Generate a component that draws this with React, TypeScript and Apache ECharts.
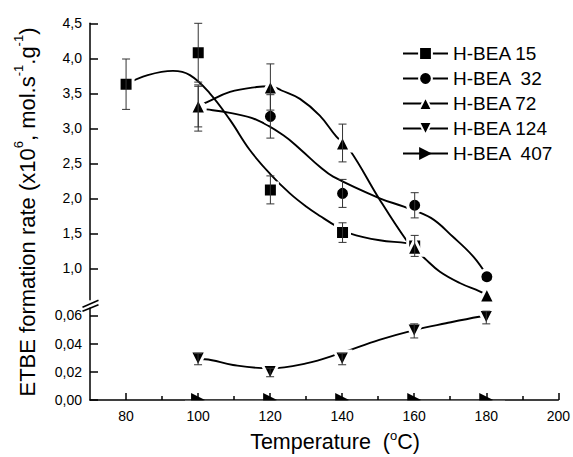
import React, { useEffect, useRef } from 'react';
import * as echarts from 'echarts';

// ---- ticks ----
const xTickValues = [80, 100, 120, 140, 160, 180, 200];
const xMinorValues = [90, 110, 130, 150, 170, 190];
const upperTicks = [1.0, 1.5, 2.0, 2.5, 3.0, 3.5, 4.0, 4.5];
const lowerTicks = [0, 0.02, 0.04, 0.06];

// ---- series names ----
const names = ['H-BEA 15', 'H-BEA  32', 'H-BEA 72', 'H-BEA 124', 'H-BEA  407'];

// ---- measured points ----
const s15T = [80, 100, 120, 140, 160];
const s15V = [3.63, 4.08, 2.12, 1.51, 1.32];
const s15E = [0.36, 0.42, 0.2, 0.14, 0.15];

const s32T = [100, 120, 140, 160, 180];
const s32V = [3.28, 3.17, 2.07, 1.9, 0.88];
const s32E = [0.32, 0.31, 0.2, 0.18, 0];

const s72T = [100, 120, 140, 160, 180];
const s72V = [3.32, 3.59, 2.79, 1.3, 0.62];
const s72E = [0.3, 0.33, 0.27, 0, 0];

const s124T = [100, 120, 140, 160, 180];
const s124V = [0.029, 0.0195, 0.029, 0.049, 0.0585];
const s124E = [0.004, 0.003, 0.004, 0.005, 0.0045];

const s407T = [100, 120, 140, 160, 180];
const s407V = [0, 0, 0, 0, 0];

// ---- fitted curves ----
const c15T = [80, 86, 93, 97.7, 103.2, 108.8, 114.3, 119.9, 125.4, 130, 134, 138.3, 142, 150.3, 157.7, 160];
const c15V = [3.63, 3.76, 3.82, 3.76, 3.5, 3.12, 2.69, 2.35, 2.07, 1.88, 1.74, 1.6, 1.5, 1.4, 1.36, 1.33];

const c32T = [100, 102.3, 108.8, 116.2, 123.6, 128.5, 133.7, 137.4, 150.3, 157, 164.5, 170.6, 176.2, 180];
const c32V = [3.28, 3.27, 3.22, 3.12, 2.9, 2.69, 2.45, 2.31, 2.0, 1.88, 1.72, 1.45, 1.17, 0.9];

const c72T = [100, 102.3, 108.8, 116.2, 120, 123.1, 128.2, 133.7, 138.3, 142, 150.3, 157.7, 160, 162.8, 167, 172.5, 178, 180];
const c72V = [3.32, 3.37, 3.52, 3.59, 3.6, 3.54, 3.42, 3.18, 2.88, 2.69, 1.98, 1.4, 1.28, 1.14, 0.95, 0.79, 0.67, 0.62];

const c124T = [100, 101.9, 109.7, 119.9, 130, 139.3, 150.3, 160, 168.8, 178, 180];
const c124V = [0.029, 0.0289, 0.0248, 0.0224, 0.026, 0.033, 0.0426, 0.0496, 0.0544, 0.059, 0.0595];

const zip = (a: number[], b: number[]) => a.map((v, i) => [v, b[i]]);
const errData = (t: number[], v: number[], e: number[]) =>
  t.map((x, i) => [x, v[i] - e[i], v[i] + e[i]]).filter((_, i) => e[i] > 0);

const FONT = 'Liberation Sans, Arial, sans-serif';
const DOWN_TRI = 'path://M0,0 L10,0 L5,10 Z';
const RIGHT_TRI = 'path://M0,0 L10,5 L0,10 Z';

const errorRender = (params: any, api: any) => {
  const x = api.value(0);
  const lo = api.value(1);
  const hi = api.value(2);
  const p1 = api.coord([x, hi]);
  const p2 = api.coord([x, lo]);
  const w = 4;
  const style = { stroke: '#333', lineWidth: 1 };
  return {
    type: 'group',
    children: [
      { type: 'line', shape: { x1: p1[0], y1: p1[1], x2: p2[0], y2: p2[1] }, style },
      { type: 'line', shape: { x1: p1[0] - w, y1: p1[1], x2: p1[0] + w, y2: p1[1] }, style },
      { type: 'line', shape: { x1: p2[0] - w, y1: p2[1], x2: p2[0] + w, y2: p2[1] }, style },
    ],
  };
};

const curve = (data: number[][], xi: number, yi: number) => ({
  type: 'line',
  xAxisIndex: xi,
  yAxisIndex: yi,
  data,
  smooth: 0.4,
  symbol: 'none',
  silent: true,
  z: 2,
  lineStyle: { color: '#000', width: 1.9 },
});

const markers = (name: string, data: number[][], symbol: string, size: number, xi: number, yi: number, border = 3) => ({
  type: 'line',
  name,
  xAxisIndex: xi,
  yAxisIndex: yi,
  data,
  symbol,
  symbolSize: size,
  showSymbol: true,
  z: 3,
  lineStyle: { width: 0, color: '#000' },
  itemStyle: { color: '#000', borderColor: '#fff', borderWidth: border },
});

const errors = (data: number[][], xi: number, yi: number) => ({
  type: 'custom',
  xAxisIndex: xi,
  yAxisIndex: yi,
  data,
  encode: { x: 0, y: [1, 2] },
  renderItem: errorRender,
  silent: true,
  z: 4,
});

export default function App() {
  const ref = useRef<HTMLDivElement>(null);
  useEffect(() => {
    document.body.style.margin = '0';
    if (!ref.current) return;
    const chart = echarts.init(ref.current, undefined, { renderer: 'svg' });
    const axisLineStyle = { color: '#000', width: 1.5 };
    const labelStyle = { color: '#000', fontSize: 14, fontFamily: FONT };
    const option: any = {
      animation: false,
      backgroundColor: '#fff',
      grid: [
        { left: 90, top: 23.3, width: 469, height: 276.5 },
        { left: 90, top: 308.35, width: 469, height: 91.65 },
      ],
      xAxis: [
        { type: 'value', gridIndex: 0, min: 70, max: 200, show: false },
        {
          type: 'value', gridIndex: 1, min: 70, max: 200,
          axisLine: { show: true, onZero: false, lineStyle: axisLineStyle },
          axisTick: { show: true, inside: true, length: 7, lineStyle: axisLineStyle, customValues: xTickValues },
          axisLabel: { ...labelStyle, margin: 9, customValues: xTickValues },
          splitLine: { show: false },
        },
        {
          type: 'value', gridIndex: 1, min: 70, max: 200, position: 'bottom',
          axisLine: { show: false },
          axisTick: { show: true, inside: true, length: 4, lineStyle: axisLineStyle, customValues: xMinorValues },
          axisLabel: { show: false },
          splitLine: { show: false },
        },
      ],
      yAxis: [
        {
          type: 'value', gridIndex: 0, min: 0.55, max: 4.5,
          axisLine: { show: true, onZero: false, lineStyle: axisLineStyle },
          axisTick: { show: true, inside: true, length: 8, lineStyle: axisLineStyle, customValues: upperTicks },
          axisLabel: {
            ...labelStyle, margin: 8, customValues: upperTicks,
            formatter: (v: number) => v.toFixed(1).replace('.', ','),
          },
          splitLine: { show: false },
        },
        {
          type: 'value', gridIndex: 1, min: 0, max: 0.065,
          axisLine: { show: true, onZero: false, lineStyle: axisLineStyle },
          axisTick: { show: true, inside: true, length: 8, lineStyle: axisLineStyle, customValues: lowerTicks },
          axisLabel: {
            ...labelStyle, margin: 8, customValues: lowerTicks,
            formatter: (v: number) => v.toFixed(2).replace('.', ','),
          },
          splitLine: { show: false },
        },
      ],
      legend: {
        orient: 'vertical',
        left: 397,
        top: 39,
        itemWidth: 45,
        itemHeight: 16,
        itemGap: 6,
        selectedMode: false,
        data: names,
        textStyle: { color: '#000', fontSize: 19, fontFamily: FONT, lineHeight: 18 },
        lineStyle: { color: '#000', width: 2, opacity: 1 },
      },
      graphic: [
        {
          type: 'rect', z: 100, silent: true,
          shape: { x: 185, y: 400.8, width: 320, height: 7.5 },
          style: { fill: '#fff' },
        },
        {
          type: 'line', z: 100, silent: true,
          shape: { x1: 82.5, y1: 307.3, x2: 98.5, y2: 300.3 },
          style: { stroke: '#000', lineWidth: 1.5 },
        },
        {
          type: 'line', z: 100, silent: true,
          shape: { x1: 82.5, y1: 311.3, x2: 98.5, y2: 304.8 },
          style: { stroke: '#000', lineWidth: 1.5 },
        },
        {
          type: 'text', z: 100, silent: true,
          x: 25, y: 212, rotation: Math.PI / 2,
          style: {
            text: '{n|ETBE formation rate (x10}{s|6}{n|, mol.s}{s|-1}{n|.g}{s|-1}{n|)}',
            align: 'center', verticalAlign: 'middle', fill: '#000',
            rich: {
              n: { fontSize: 22, fontFamily: FONT, lineHeight: 26, fill: '#000', verticalAlign: 'bottom' },
              s: { fontSize: 13, fontFamily: FONT, lineHeight: 26, fill: '#000', verticalAlign: 'top' },
            },
          },
        },
        {
          type: 'text', z: 100, silent: true,
          x: 335, y: 441,
          style: {
            text: '{n|Temperature  (}{s|o}{n|C)}',
            align: 'center', verticalAlign: 'middle', fill: '#000',
            rich: {
              n: { fontSize: 21.5, fontFamily: FONT, lineHeight: 24, fill: '#000', verticalAlign: 'bottom' },
              s: { fontSize: 13, fontFamily: FONT, lineHeight: 24, fill: '#000', verticalAlign: 'top' },
            },
          },
        },
      ],
      series: [
        curve(zip(c15T, c15V), 0, 0),
        curve(zip(c32T, c32V), 0, 0),
        curve(zip(c72T, c72V), 0, 0),
        curve(zip(c124T, c124V), 1, 1),
        markers(names[0], zip(s15T, s15V), 'rect', 14, 0, 0),
        markers(names[1], zip(s32T, s32V), 'circle', 14, 0, 0),
        markers(names[2], zip(s72T, s72V), 'triangle', 16, 0, 0),
        markers(names[3], zip(s124T, s124V), DOWN_TRI, 16, 1, 1),
        markers(names[4], zip(s407T, s407V), RIGHT_TRI, 14, 1, 1, 0),
        errors(errData(s15T, s15V, s15E), 0, 0),
        errors(errData(s32T, s32V, s32E), 0, 0),
        errors(errData(s72T, s72V, s72E), 0, 0),
        errors(errData(s124T, s124V, s124E), 1, 1),
      ],
    };
    chart.setOption(option);
    return () => chart.dispose();
  }, []);
  return <div ref={ref} style={{ width: 573, height: 457 }} />;
}
